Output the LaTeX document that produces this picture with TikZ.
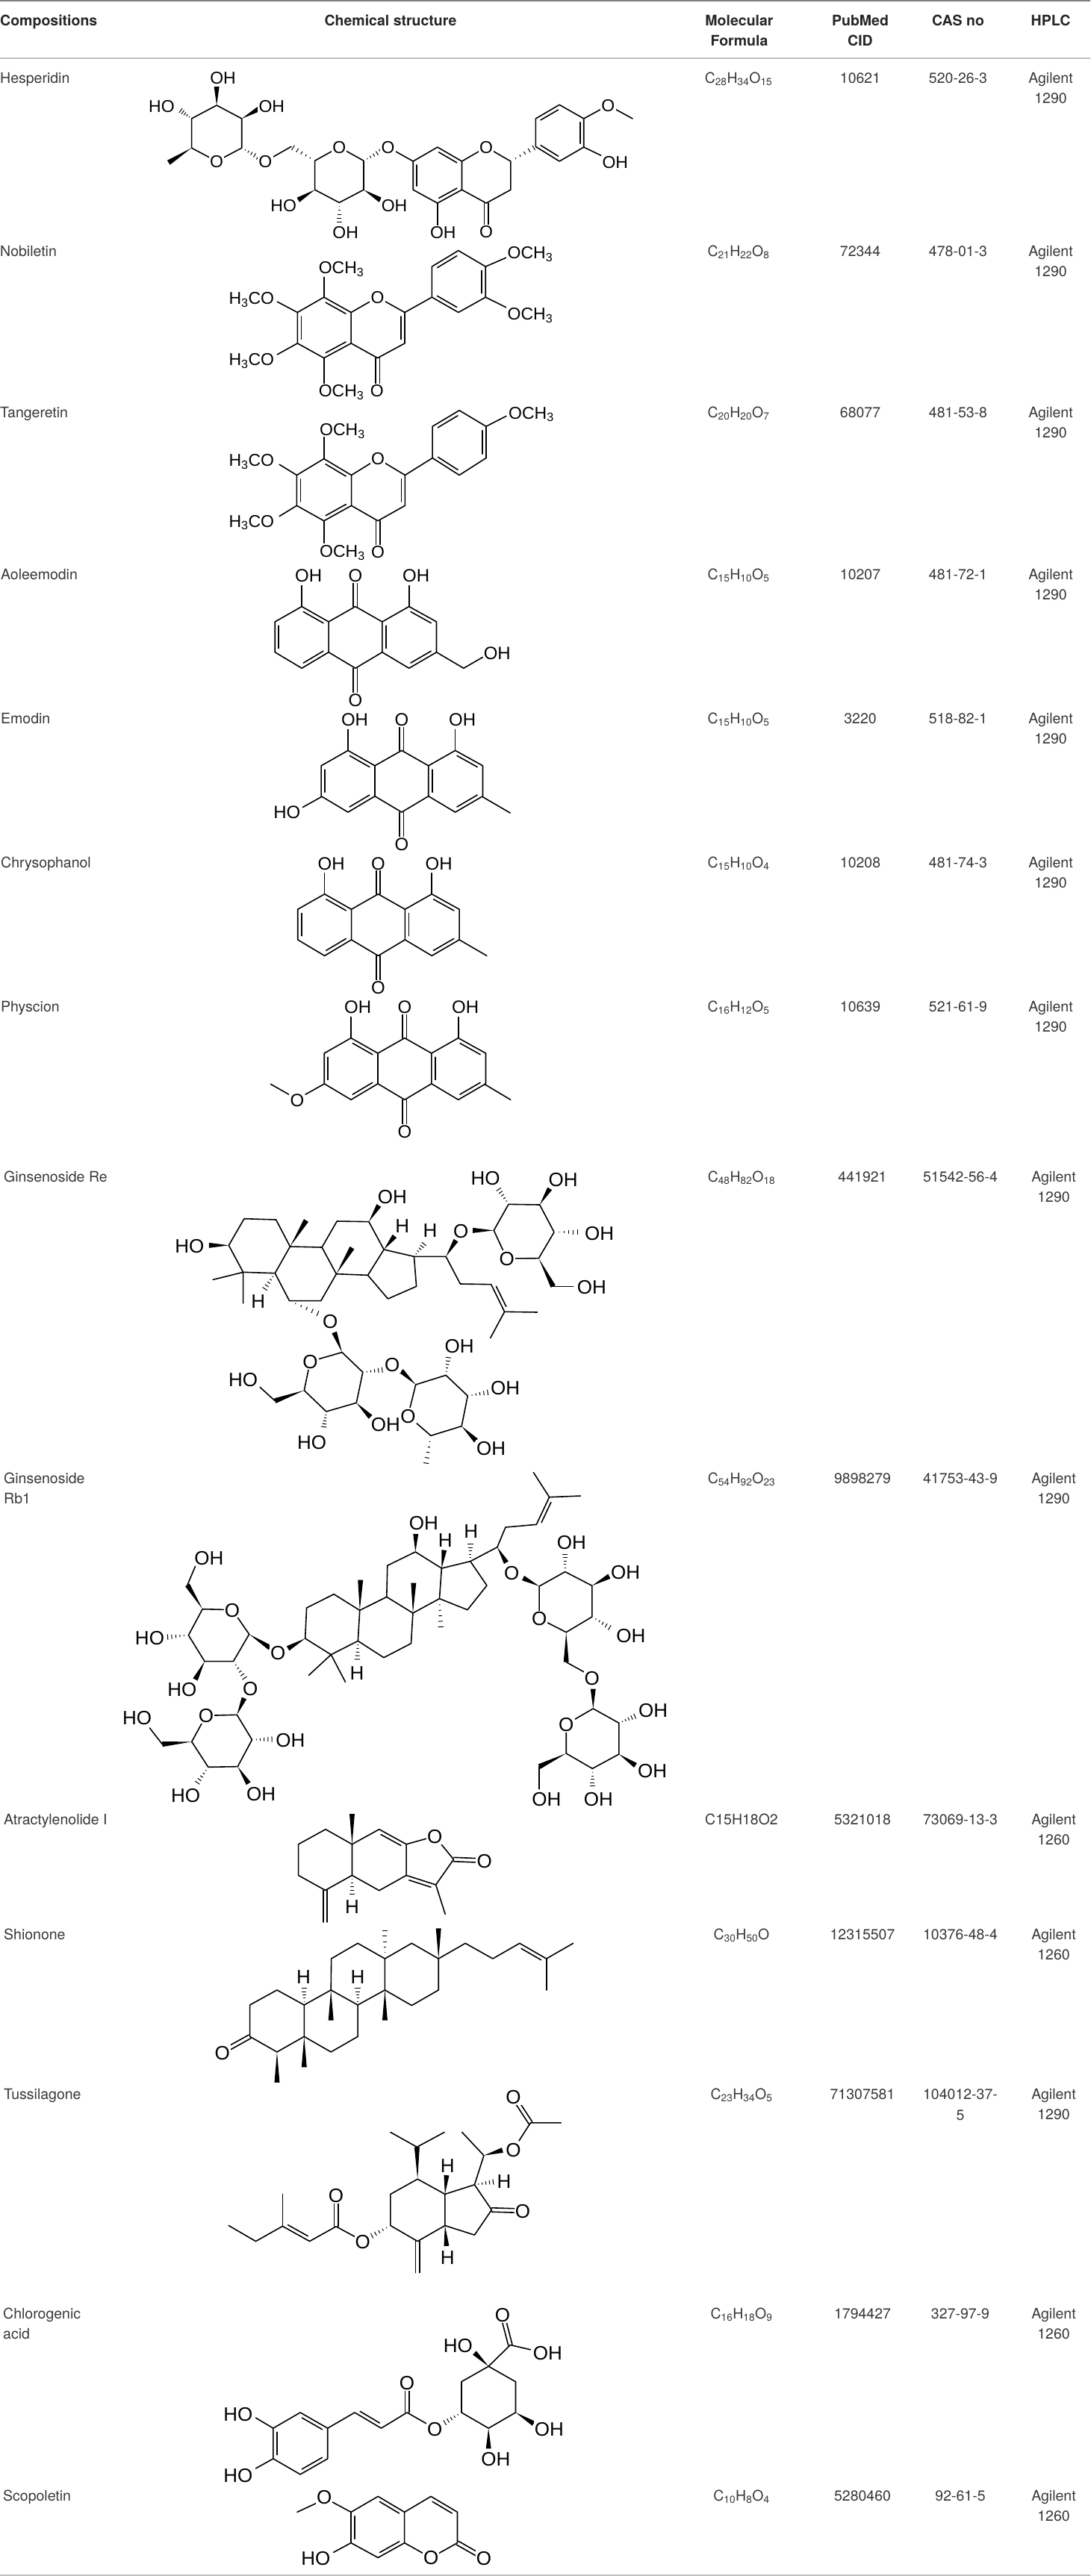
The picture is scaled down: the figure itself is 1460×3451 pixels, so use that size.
\documentclass[tikz,border=0pt]{standalone}
\usepackage{fontspec}
\usetikzlibrary{calc}
\setmainfont{TeX Gyre Heros}
\newfontfamily\chemf{Liberation Sans}
\newcount\zc
\def\afs{24}
\def\zA#1#2{\global\advance\zc by 1 \node[atom] (a\the\zc) at (#1) {#2};}
\def\zW#1#2{\fill[black] (#1) -- ($(#2)!3.5pt!90:(#1)$) -- ($(#2)!3.5pt!-90:(#1)$) -- cycle;}
\def\zH#1#2{\foreach \t in {.2,.38,.56,.74,.92} {\draw[line width=1pt] ($(#1)!\t!(#2)!\t*4pt!90:(#2)$) -- ($(#1)!\t!(#2)!\t*4pt!-90:(#2)$);}}
\def\zR#1#2{\draw[bd] ($(#1)!.13!(#2)!5pt!-90:(#2)$) -- ($(#2)!.13!(#1)!5pt!90:(#1)$);}
\def\zS#1#2{\draw[bd] ($(#1)!2.7pt!90:(#2)$) -- ($(#2)!2.7pt!-90:(#1)$); \draw[bd] ($(#1)!2.7pt!-90:(#2)$) -- ($(#2)!2.7pt!90:(#1)$);}
\def\tC#1#2#3#4{\global\advance\zc by 1 \node[cell,anchor=base] (t\the\zc) at (#1pt,-#2pt) {#3};\ifx\relax#4\relax\else\global\advance\zc by 1 \node[cell,anchor=base] (t\the\zc) at (#1pt,-#2pt-27pt) {#4};\fi}
\def\tL#1#2#3{\global\advance\zc by 1 \node[cell,anchor=base west] (t\the\zc) at (#1pt,-#2pt) {#3};}
\def\sB#1{\textsubscript{#1}}
\def\rowA#1#2#3#4#5#6{\tL{#1}{#2}{#3}\tC{989}{#2}{#4}{}\tC{1152}{#2}{#5}{}\tC{1283}{#2}{#6}{}\tC{1407}{#2}{Agilent}{1290}}
\def\rowB#1#2#3#4#5#6#7{\tL{#1}{#2}{#3}\tC{993}{#2}{#4}{}\tC{1155}{#2}{#5}{}\tC{1286}{#2}{#6}{}\tC{1411}{#2}{Agilent}{#7}}
\def\anthra{%
\draw[bd] (455,495)--(535,535)--(535,615)--(455,657)--(375,615)--(375,535)--cycle;
\draw[bd] (535,535)--(615,495)--(695,535)--(695,615)--(615,657)--(535,615);
\draw[bd] (695,535)--(775,495)--(857,535)--(857,615)--(775,657)--(695,615);
\zR{455,495}{535,535}\zR{535,615}{455,657}\zR{375,615}{375,535}
\zR{775,495}{857,535}\zR{857,615}{775,657}\zR{695,615}{695,535}
\zS{615,495}{615,415}\zS{615,657}{615,740}
\draw[bd] (455,495)--(455,440);\draw[bd] (775,495)--(775,440);
\zA{475,414}{OH}\zA{615,414}{O}\zA{796,414}{OH}\zA{615,740}{O}}
\tikzset{
 bd/.style={line width=1.6pt,line join=round,line cap=round,black},
 atom/.style={font=\chemf\fontsize{\afs}{\afs}\selectfont,fill=white,inner sep=1.2pt,text height=\afs*.72pt,text depth=0pt,text=black},
 cell/.style={font=\fontsize{19.5}{19.5}\selectfont,text=black!78,inner sep=0pt,align=center},
 head/.style={font=\bfseries\fontsize{19.5}{19.5}\selectfont,text=black!85,inner sep=0pt},
 rule/.style={line width=2pt},
 zI/.style={x=.9329pt,y=-.3571pt},
 zII/.style={shift={(200pt,-560pt)},x=.4487pt,y=-.5102pt},
 zIII/.style={shift={(200pt,-1560pt)},x=.4487pt,y=-.3333pt},
 zIV/.style={shift={(150pt,-1960pt)},x=.4808pt,y=-.3333pt},
 zV/.style={shift={(200pt,-2420pt)},x=.4487pt,y=-.3333pt},
 zVI/.style={shift={(250pt,-2790pt)},x=.4167pt,y=-.4209pt},
}
\begin{document}
\begin{tikzpicture}
\useasboundingbox (0pt,0pt) rectangle (1460pt,-3451pt);
\fill[white] (0pt,0pt) rectangle (1460pt,-3451pt);
% table rules
\coordinate (r1a) at (0pt,-.8pt);\coordinate (r1b) at (1460pt,-.8pt);
\coordinate (r2a) at (0pt,-78pt);\coordinate (r2b) at (1460pt,-78pt);
\coordinate (r3a) at (0pt,-3449.5pt);\coordinate (r3b) at (1460pt,-3449.5pt);
\draw[rule,black!50] (r1a)--(r1b);
\draw[rule,black!25] (r2a)--(r2b);
\draw[rule,black!25] (r3a)--(r3b);
% header
\begin{scope}[yshift=-7pt]
\node[head,anchor=base west] (h1) at (0pt,-27pt) {Compositions};
\node[head,anchor=base] (h2) at (523pt,-27pt) {Chemical structure};
\node[head,anchor=base] (h3) at (990pt,-27pt) {Molecular};
\node[head,anchor=base] (h3b) at (990pt,-54pt) {Formula};
\node[head,anchor=base] (h4) at (1152pt,-27pt) {PubMed};
\node[head,anchor=base] (h4b) at (1152pt,-54pt) {CID};
\node[head,anchor=base] (h5) at (1283pt,-27pt) {CAS no};
\node[head,anchor=base] (h6) at (1407pt,-27pt) {HPLC};
% rows
\rowA{0}{104}{Hesperidin}{C\sB{28}H\sB{34}O\sB{15}}{10621}{520-26-3}
\rowA{0}{336}{Nobiletin}{C\sB{21}H\sB{22}O\sB{8}}{72344}{478-01-3}
\rowA{0}{552}{Tangeretin}{C\sB{20}H\sB{20}O\sB{7}}{68077}{481-53-8}
\rowA{1}{769}{Aoleemodin}{C\sB{15}H\sB{10}O\sB{5}}{10207}{481-72-1}
\rowA{1}{962}{Emodin}{C\sB{15}H\sB{10}O\sB{5}}{3220}{518-82-1}
\rowA{1}{1155}{Chrysophanol}{C\sB{15}H\sB{10}O\sB{4}}{10208}{481-74-3}
\rowA{1}{1348}{Physcion}{C\sB{16}H\sB{12}O\sB{5}}{10639}{521-61-9}
\rowB{5}{1576}{Ginsenoside Re}{C\sB{48}H\sB{82}O\sB{18}}{441921}{51542-56-4}{1290}
\rowB{5}{1980}{Ginsenoside}{C\sB{54}H\sB{92}O\sB{23}}{9898279}{41753-43-9}{1290}
\tL{5}{2007}{Rb1}
\rowB{5}{2437}{Atractylenolide I}{C15H18O2}{5321018}{73069-13-3}{1260}
\rowB{5}{2591}{Shionone}{C\sB{30}H\sB{50}O}{12315507}{10376-48-4}{1260}
\rowB{5}{2805.5}{Tussilagone}{C\sB{23}H\sB{34}O\sB{5}}{71307581}{104012-37-}{1290}
\tC{1286}{2833}{5}{}
\rowB{4}{3099}{Chlorogenic}{C\sB{16}H\sB{18}O\sB{9}}{1794427}{327-97-9}{1260}
\tL{4}{3126.5}{acid}
\rowB{4}{3343}{Scopoletin}{C\sB{10}H\sB{8}O\sB{4}}{5280460}{92-61-5}{1260}
\end{scope}
% ---------- Hesperidin
\begin{scope}[zI]\def\afs{23}
\draw[bd] (311,395)--(347,445)--(347,555)--(311,605)--(275,555)--(275,445)--cycle;
\zW{311,395}{311,325}\zH{275,445}{258,412}\zW{347,445}{372,408}\zW{275,555}{242,610}
\zH{347,555}{372,592}\draw[bd] (381,605)--(418,550);\zH{452,603}{418,550}
\draw[bd] (452,603)--(487,552)--(522,603)--(522,712)--(487,760)--(452,712)--cycle;
\zW{452,712}{428,750}\zW{522,712}{546,750}\zH{487,760}{487,838}\zH{522,603}{548,565}
\draw[bd] (557,552)--(593,605);
\draw[bd] (593,605)--(628,552)--(663,605)--(663,712)--(628,762)--(593,712)--cycle;
\zR{593,712}{593,605}\zR{628,552}{663,605}\zR{663,712}{628,762}
\draw[bd] (663,605)--(698,552)--(733,605)--(733,712)--(698,762)--(663,712);
\zS{698,762}{698,870}\draw[bd] (628,762)--(628,845);
\zH{733,605}{769,550}
\draw[bd] (769,550)--(769,445)--(803,393)--(838,445)--(838,552)--(803,605)--cycle;
\zR{769,445}{803,393}\zR{838,445}{838,552}\zR{803,605}{769,550}
\draw[bd] (838,445)--(873,395)--(908,445);\draw[bd] (838,552)--(868,590);
\zA{320,292}{OH}\zA{232,398}{HO}\zA{390,398}{OH}\zA{311,605}{O}\zA{381,605}{O}\zA{487,552}{O}\zA{557,552}{O}
\zA{407,770}{HO}\zA{566,770}{OH}\zA{496,872}{OH}\zA{636,872}{OH}\zA{698,870}{O}\zA{698,552}{O}\zA{873,395}{O}\zA{883,608}{OH}
\end{scope}
% ---------- Nobiletin
\begin{scope}[zI]\def\afs{23}
\draw[bd] (465,1115)--(504,1172)--(504,1288)--(465,1343)--(427,1288)--(427,1172)--cycle;
\zR{465,1115}{504,1172}\zR{427,1288}{427,1172}\zR{504,1288}{465,1343}
\draw[bd] (504,1172)--(542,1115)--(581,1172)--(581,1288)--(542,1343)--(504,1288);
\zR{581,1172}{581,1288}\zS{542,1343}{542,1465}
\draw[bd] (581,1172)--(620,1115)--(620,1000)--(658,940)--(697,1000)--(697,1115)--(658,1172)--(620,1115);
\zR{620,1000}{658,940}\zR{697,1000}{697,1115}\zR{658,1172}{620,1115}
\draw[bd] (697,1000)--(728,965);\draw[bd] (697,1115)--(728,1155);
\draw[bd] (465,1115)--(465,1040);\draw[bd] (427,1172)--(398,1132);\draw[bd] (427,1288)--(398,1330);\draw[bd] (465,1343)--(465,1440);
\zA{761,948}{OCH\sB{3}}\zA{761,1178}{OCH\sB{3}}\zA{490,1003}{OCH\sB{3}}\zA{361,1118}{H\sB{3}CO}\zA{361,1347}{H\sB{3}CO}\zA{490,1465}{OCH\sB{3}}\zA{541,1465}{O}\zA{542,1115}{O}
\end{scope}
% ---------- Tangeretin
\begin{scope}[zII]\def\afs{23}
\draw[bd] (521,107)--(603,150)--(603,230)--(521,270)--(440,230)--(440,150)--cycle;
\zR{521,107}{603,150}\zR{603,230}{521,270}\zR{440,230}{440,150}
\draw[bd] (603,150)--(682,107)--(763,150)--(763,230)--(682,270)--(603,230);
\zR{763,150}{763,230}\zS{682,270}{682,350}
\draw[bd] (763,150)--(845,105)--(845,22)--(925,-20)--(1005,22)--(1005,105)--(925,150)--(845,105);
\zR{845,22}{925,-20}\zR{1005,22}{1005,105}\zR{925,150}{845,105}
\draw[bd] (1005,22)--(1065,-5);
\draw[bd] (521,107)--(521,50);\draw[bd] (440,150)--(388,122);\draw[bd] (440,230)--(388,258);\draw[bd] (521,270)--(521,328);
\zA{1140,-14}{OCH\sB{3}}\zA{576,30}{OCH\sB{3}}\zA{305,110}{H\sB{3}CO}\zA{305,270}{H\sB{3}CO}\zA{576,350}{OCH\sB{3}}\zA{682,352}{O}\zA{682,107}{O}
\end{scope}
% ---------- Anthraquinones
\begin{scope}[zII]
\def\afs{24}
\anthra
\draw[bd] (857,615)--(938,657)--(995,628);\zA{1038,617}{OH}
\begin{scope}[shift={(138,378)}]\anthra
\draw[bd] (857,617)--(939,659);\draw[bd] (375,617)--(320,644);\zA{273,657}{HO}
\end{scope}
\begin{scope}[shift={(68,755)}]\anthra
\draw[bd] (857,615)--(939,657);
\end{scope}
\begin{scope}[shift={(147,1133)}]\anthra
\draw[bd] (853,616)--(931,657);
\end{scope}
\draw[bd] (521,1749)--(466,1776);\draw[bd] (416,1776)--(362,1749);\zA{441,1791}{O}
\end{scope}
% ---------- Ginsenoside Re
\begin{scope}[zIII]\def\afs{26}
\draw[bd] (283,218)--(378,222)--(420,330)--(375,437)--(280,433)--(237,325)--cycle;
\draw[bd] (420,330)--(515,333)--(558,440)--(512,548)--(418,548)--(375,437);
\draw[bd] (515,333)--(560,228)--(655,230)--(700,342)--(652,445)--(558,440);
\draw[bd] (700,342)--(790,370)--(797,490)--(712,540)--(652,445);
\zW{237,325}{178,325}\zW{420,330}{468,225}\zW{558,440}{605,335}
\draw[bd] (190,463)--(280,433)--(280,558);
\zH{375,437}{342,505}\zH{418,548}{510,603}\zW{655,230}{685,165}\zW{700,342}{732,288}\zH{790,370}{822,315}
\draw[bd] (790,370)--(885,370)--(928,480)--(1020,482)--(1060,592)--(1158,594);\draw[bd] (1060,592)--(1018,697);
\zR{1060,592}{1020,482}
\zW{885,370}{915,305}\zW{1028,265}{965,265}
\draw[bd] (1028,265)--(1072,160)--(1165,162)--(1208,272)--(1162,377)--(1067,378)--cycle;
\zH{1072,160}{1040,95}\zW{1165,162}{1195,97}\zH{1208,272}{1285,272}\zW{1162,377}{1205,490}\draw[bd] (1205,490)--(1265,490);
\zW{575,755}{552,675}
\draw[bd] (575,755)--(637,835)--(618,958)--(528,993)--(462,908)--(480,792)--cycle;
\zH{637,835}{700,825}\zW{462,908}{375,950}\draw[bd] (375,950)--(330,895);\zH{528,993}{520,1060}\zW{618,958}{660,1015}
\zW{795,885}{752,830}
\draw[bd] (795,885)--(885,847)--(950,930)--(932,1052)--(840,1090)--(772,1010)--cycle;
\zH{885,847}{893,770}\zH{950,930}{1015,915}\zW{932,1052}{975,1110}\zH{840,1090}{825,1210}
\zA{120,327}{HO}\zA{325,550}{H}\zA{540,630}{O}\zA{725,128}{OH}\zA{755,245}{H}\zA{838,265}{H}\zA{930,268}{O}
\zA{1067,378}{O}\zA{1003,55}{HO}\zA{1235,60}{OH}\zA{1343,277}{OH}\zA{1320,492}{OH}
\zA{480,792}{O}\zA{725,805}{O}\zA{280,865}{HO}\zA{485,1117}{HO}\zA{705,1045}{OH}
\zA{772,1010}{O}\zA{925,728}{OH}\zA{1062,897}{OH}\zA{1020,1140}{OH}
\end{scope}
% ---------- Ginsenoside Rb1
\begin{scope}[zIV]\def\afs{26}
\draw[bd] (542,582)--(618,527)--(690,592)--(685,715)--(610,770)--(538,705)--cycle;
\draw[bd] (690,592)--(765,538)--(838,603)--(833,725)--(757,782)--(685,715);
\draw[bd] (765,538)--(767,412)--(845,357)--(918,423)--(912,545)--(838,603);
\draw[bd] (918,423)--(998,395)--(1044,492)--(990,590)--(912,545);
\zW{845,357}{846,285}\zW{918,423}{925,350}\zH{998,395}{998,320}
\zW{690,592}{692,470}\zW{838,603}{840,482}\zH{912,545}{916,668}
\draw[bd] (548,853)--(610,770)--(650,880);
\zH{685,715}{683,795}\zW{538,705}{490,745}
\draw[bd] (998,395)--(1073,338)--(1096,258)--(1182,247)--(1218,137)--(1305,132);\draw[bd] (1218,137)--(1174,38);
\zR{1182,247}{1218,137}
\zW{1073,338}{1098,400}\zW{1190,495}{1145,462}
\draw[bd] (1190,495)--(1262,437)--(1337,493)--(1337,618)--(1265,680)--(1190,625)--cycle;
\zH{1262,437}{1262,360}\zW{1337,493}{1385,455}\zH{1337,618}{1390,665}\zW{1265,680}{1265,800}\draw[bd] (1265,800)--(1315,840);
\zW{1340,987}{1340,908}
\draw[bd] (1340,987)--(1412,1045)--(1412,1170)--(1338,1228)--(1265,1167)--(1265,1050)--cycle;
\zH{1412,1045}{1460,1015}\zW{1412,1170}{1458,1215}\zH{1338,1228}{1338,1305}\zW{1265,1167}{1190,1220}\draw[bd] (1190,1220)--(1190,1310);
\zW{382,688}{440,742}
\draw[bd] (382,688)--(338,797)--(258,797)--(213,692)--(252,587)--(335,590)--cycle;
\zW{252,587}{210,490}\draw[bd] (210,490)--(232,415);\zH{213,692}{150,700}\zW{258,797}{232,870}\zH{338,797}{372,870}
\zW{348,1012}{368,945}
\draw[bd] (348,1012)--(390,1112)--(350,1220)--(268,1222)--(222,1120)--(262,1015)--cycle;
\zW{222,1120}{140,1130}\draw[bd] (140,1130)--(105,1065);\zH{390,1112}{450,1110}\zW{350,1220}{380,1288}\zH{268,1222}{235,1290}
\zA{868,240}{OH}\zA{928,308}{H}\zA{1000,273}{H}\zA{682,842}{H}\zA{462,762}{O}\zA{1113,442}{O}
\zA{1190,625}{O}\zA{1280,317}{OH}\zA{1430,437}{OH}\zA{1445,692}{OH}\zA{1337,865}{O}
\zA{1265,1050}{O}\zA{1507,993}{OH}\zA{1505,1235}{OH}\zA{1355,1350}{OH}\zA{1210,1350}{OH}
\zA{335,590}{O}\zA{270,380}{OH}\zA{105,702}{HO}\zA{195,910}{HO}\zA{385,905}{O}
\zA{262,1015}{O}\zA{70,1022}{HO}\zA{497,1112}{OH}\zA{415,1328}{OH}\zA{205,1335}{HO}
\end{scope}
% ---------- Atractylenolide I and Shionone
\begin{scope}[zV]\def\afs{26}
\draw[bd] (526,92)--(605,152)--(605,277)--(525,337)--(445,277)--(445,152)--cycle;
\draw[bd] (605,152)--(686,92)--(767,152)--(767,277)--(686,338)--(605,277);
\draw[bd] (767,152)--(852,120)--(908,213)--(855,315)--(767,277);
\zR{686,92}{767,152}\zR{767,277}{855,315}\zS{908,213}{1000,218}\draw[bd] (855,315)--(883,433);
\zW{605,152}{605,30}\zH{605,277}{605,360}\zS{525,337}{525,465}
\zA{852,120}{O}\zA{1000,218}{O}\zA{605,403}{H}
\draw[bd] (703,612)--(783,550)--(863,612)--(863,738)--(783,800)--(703,738)--cycle;
\draw[bd] (703,612)--(622,550)--(543,612)--(542,738)--(622,798)--(703,738);
\draw[bd] (622,798)--(622,925)--(542,987)--(462,925)--(462,798)--(542,738);
\draw[bd] (462,798)--(381,738)--(300,798)--(300,925)--(381,987)--(462,925);
\zH{703,612}{703,490}\zW{863,612}{863,490}
\draw[bd] (863,612)--(943,550)--(1025,612)--(1105,550)--(1185,612)--(1265,550);\draw[bd] (1185,612)--(1185,738);
\zR{1105,550}{1185,612}
\zH{462,798}{462,725}\zW{542,738}{542,860}\zH{622,798}{622,725}\zW{703,738}{703,860}\zW{462,925}{462,1048}\zW{381,987}{381,1110}
\zS{300,925}{240,970}
\zA{460,683}{H}\zA{622,683}{H}\zA{218,990}{O}
\end{scope}
% ---------- Tussilagone, Chlorogenic acid, Scopoletin
\begin{scope}[zVI]\def\afs{26}
\draw[bd] (742,307)--(830,355)--(830,455)--(742,505)--(655,455)--(655,355)--cycle;
\draw[bd] (830,355)--(925,325)--(980,405)--(925,485)--(830,455);
\draw[bd] (925,325)--(955,232)--(885,158);\zW{955,232}{1015,215}
\draw[bd] (1068,185)--(1105,128)--(1203,128);\zS{1105,128}{1050,45}
\zH{925,325}{990,315}\zW{830,355}{835,295}\zW{830,455}{835,520}\zS{980,405}{1080,408}
\zW{742,307}{740,205}\draw[bd] (655,158)--(740,205)--(828,158);\zS{742,505}{742,605}
\zH{655,455}{590,490}
\draw[bd] (540,490)--(480,458)--(395,505)--(308,457)--(222,505)--(135,455);\draw[bd] (308,457)--(308,355);
\zS{480,458}{480,360}\zR{395,505}{308,457}
\zA{1050,215}{O}\zA{1050,45}{O}\zA{1020,315}{H}\zA{838,265}{H}\zA{838,557}{H}\zA{1080,408}{O}\zA{566,507}{O}\zA{480,360}{O}
%
\draw[bd] (970,903)--(1057,952)--(1057,1050)--(970,1100)--(883,1050)--(883,952)--cycle;
\zW{970,903}{925,860}\draw[bd] (970,903)--(1040,835)--(1105,850);\zS{1040,835}{1015,740}
\zW{1057,1050}{1115,1085}\zW{970,1100}{970,1165}\zH{883,1050}{825,1085}
\draw[bd] (770,1085)--(708,1050)--(625,1100)--(540,1050)--(453,1100);\zS{708,1050}{708,955}\zR{625,1100}{540,1050}
\draw[bd] (453,1100)--(453,1197)--(365,1247)--(278,1197)--(278,1100)--(365,1050)--cycle;
\zR{365,1050}{453,1100}\zR{453,1197}{365,1247}\zR{278,1197}{278,1100}
\draw[bd] (278,1100)--(222,1067);\draw[bd] (278,1197)--(222,1228);
\zA{872,836}{HO}\zA{1015,740}{O}\zA{1160,860}{OH}\zA{1165,1102}{OH}\zA{993,1198}{OH}\zA{797,1102}{O}\zA{708,955}{O}\zA{165,1055}{HO}\zA{165,1250}{HO}
%
\draw[bd] (615,1317)--(700,1367)--(700,1465)--(615,1512)--(528,1465)--(528,1367)--cycle;
\zR{615,1317}{700,1367}\zR{700,1465}{615,1512}\zR{528,1465}{528,1367}
\draw[bd] (700,1367)--(785,1317)--(870,1367)--(870,1465)--(785,1512)--(700,1465);
\zR{785,1317}{870,1367}\zS{870,1465}{955,1513}
\draw[bd] (528,1367)--(468,1335);\draw[bd] (418,1338)--(355,1367);\draw[bd] (528,1465)--(472,1495);
\zA{442,1320}{O}\zA{415,1513}{HO}\zA{785,1512}{O}\zA{955,1513}{O}
\end{scope}
\end{tikzpicture}
\end{document}
